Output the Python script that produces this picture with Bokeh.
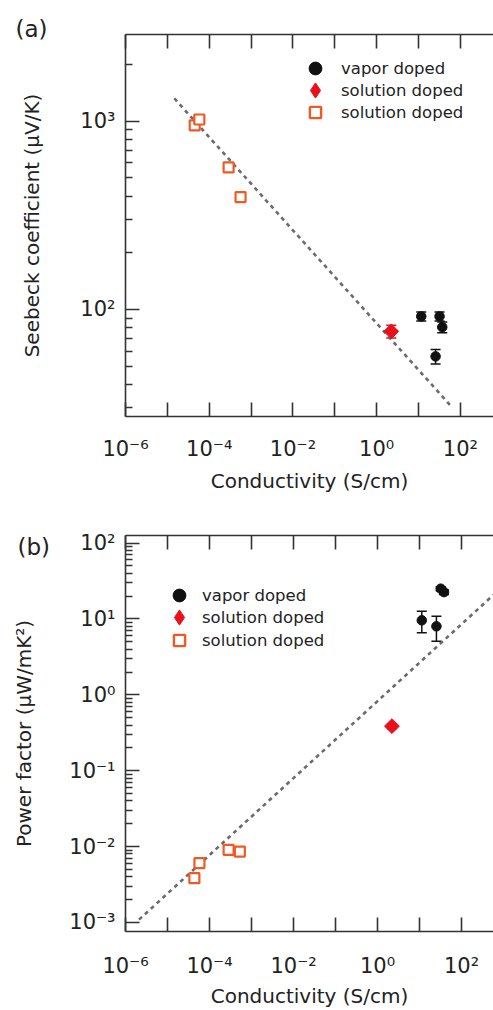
import math
from bokeh.plotting import figure
from bokeh.models import (ColumnDataSource, Whisker, TeeHead, FixedTicker, CustomJSTickFormatter,
                          LogAxis, Label, Legend, LegendItem, Range1d)
from bokeh.layouts import column
from bokeh.embed import file_html
from bokeh.resources import INLINE

# ---------------- data: panel (a) Seebeck coefficient ----------------
vapor_sigma_a = [11.6, 31.7, 36.8, 25.5]
vapor_seebeck = [91.8, 91.8, 80.5, 56.3]
vapor_seebeck_err = [5.0, 5.0, 5.3, 5.0]
soln_sigma_a = [2.23]
soln_seebeck = [76.5]
soln_seebeck_err = [6.0]
film_sigma_a = [4.5e-5, 5.8e-5, 2.9e-4, 5.6e-4]
film_seebeck = [950, 1020, 568, 395]
fit_sigma_a = [1.47e-5, 62.7]
fit_seebeck = [1320, 30.3]

# ---------------- data: panel (b) power factor ----------------
vapor_sigma_b = [11.3, 25.2, 31.8, 38.2]
vapor_pf = [9.6, 8.0, 25.1, 22.6]
vapor_pf_err = [3.0, 2.9, 1.5, 1.5]
soln_sigma_b = [2.2]
soln_pf = [0.387]
soln_pf_err = [0.03]
film_sigma_b = [4.36e-5, 5.75e-5, 2.85e-4, 5.27e-4]
film_pf = [3.84e-3, 6.05e-3, 9.06e-3, 8.6e-3]
fit_sigma_b = [2.1e-6, 571]
fit_pf = [1.09e-3, 20.7]

# ---------------- ticks ----------------
x_ticks = [1e-6, 1e-5, 1e-4, 1e-3, 1e-2, 1e-1, 1e0, 1e1, 1e2]
x_tick_labels = ["10⁻⁶", "", "10⁻⁴", "", "10⁻²", "", "10⁰", "", "10²"]
ya_ticks = [1e2, 1e3]
ya_tick_labels = ["10²", "10³"]
ya_minor = [30, 40, 50, 60, 70, 80, 90, 200, 300, 400, 500, 600, 700, 800, 900, 2000, 3000]
yb_ticks = [1e-3, 1e-2, 1e-1, 1e0, 1e1, 1e2]
yb_tick_labels = ["10⁻³", "10⁻²", "10⁻¹", "10⁰", "10¹", "10²"]
yb_minor = [m * d for d in [1e-3, 1e-2, 1e-1, 1e0, 1e1] for m in range(2, 10)]

legend_labels = ["vapor doped", "solution doped", "solution doped"]

FONT = "DejaVu Sans"
TXT = "#222222"
SQ = "#ef5a24"
RED = "#e8111b"
DOT = "#111111"
NAN = float("nan")

# legend key box sizes (circle, diamond, square) -> key glyph sizes
KEY_BOX = [32, 38, 28]

LABEL_JS = """
for (let i = 0; i < tks.length; i++) {
  if (Math.abs(Math.log10(tick) - Math.log10(tks[i])) < 1e-6) { return labs[i]; }
}
return "";
"""


def fmt(tks, labs):
    return CustomJSTickFormatter(args=dict(tks=tks, labs=labs), code=LABEL_JS)


def style_axis(ax, minor=True):
    ax.axis_line_color = "#333333"
    ax.axis_line_width = 1.6
    ax.major_tick_line_color = "#333333"
    ax.major_tick_line_width = 1.6
    ax.minor_tick_line_color = "#333333"
    ax.minor_tick_line_width = 1.3
    ax.major_tick_in = 14
    ax.major_tick_out = 0
    ax.minor_tick_in = 7 if minor else 0
    ax.minor_tick_out = 0
    ax.major_label_text_font = FONT
    ax.major_label_text_font_size = "21px"
    ax.major_label_text_color = TXT
    ax.axis_label_text_font = FONT
    ax.axis_label_text_font_size = "20px"
    ax.axis_label_text_font_style = "normal"
    ax.axis_label_text_color = TXT


def make_panel(width, height, bl, bt, bb, y_start, y_end, x_end,
               y_ticks, y_labels, y_minor, y_title, y_title_standoff, x_lab_standoff, x_title_standoff,
               vs, vy, ve, ss, sy, se, fs, fy, lx, ly,
               key_cx, key_rows, text_x, tag, tag_xy):
    p = figure(width=width, height=height, x_axis_type="log", y_axis_type="log",
               x_range=Range1d(1e-6, x_end), y_range=Range1d(y_start, y_end),
               output_backend="svg", toolbar_location=None,
               min_border_left=bl, min_border_right=0, min_border_top=bt, min_border_bottom=bb)
    p.outline_line_color = None
    p.grid.visible = False
    p.background_fill_color = "white"

    xa = p.xaxis[0]
    xa.ticker = FixedTicker(ticks=x_ticks, minor_ticks=[])
    xa.formatter = fmt(x_ticks, x_tick_labels)
    xa.axis_label = "Conductivity (S/cm)"
    style_axis(xa, minor=False)
    xa.major_label_standoff = x_lab_standoff
    xa.axis_label_standoff = x_title_standoff

    ya = p.yaxis[0]
    ya.ticker = FixedTicker(ticks=y_ticks, minor_ticks=y_minor)
    ya.formatter = fmt(y_ticks, y_labels)
    ya.axis_label = y_title
    style_axis(ya)
    ya.major_label_standoff = 10
    ya.axis_label_standoff = y_title_standoff

    top = LogAxis(ticker=FixedTicker(ticks=x_ticks, minor_ticks=[]),
                  formatter=fmt(x_ticks, [""] * len(x_ticks)))
    style_axis(top, minor=False)
    top.major_label_text_font_size = "0px"
    top.major_label_standoff = 0
    p.add_layout(top, "above")

    # fit line
    p.line(lx, ly, line_color="#6b6b6b", line_width=2.6, line_dash="4 4")

    # error bars
    vsrc = ColumnDataSource(dict(x=vs, lower=[a - b for a, b in zip(vy, ve)],
                                 upper=[a + b for a, b in zip(vy, ve)]))
    p.add_layout(Whisker(source=vsrc, base="x", lower="lower", upper="upper",
                         line_color=DOT, line_width=1.5,
                         upper_head=TeeHead(size=10, line_color=DOT, line_width=1.5),
                         lower_head=TeeHead(size=10, line_color=DOT, line_width=1.5)))
    ssrc = ColumnDataSource(dict(x=ss, lower=[a - b for a, b in zip(sy, se)],
                                 upper=[a + b for a, b in zip(sy, se)]))
    p.add_layout(Whisker(source=ssrc, base="x", lower="lower", upper="upper",
                         line_color=RED, line_width=1.5,
                         upper_head=TeeHead(size=10, line_color=RED, line_width=1.5),
                         lower_head=TeeHead(size=10, line_color=RED, line_width=1.5)))

    p.scatter(vs, vy, marker="circle", size=9.5, fill_color=DOT, line_color=DOT)
    p.scatter(ss, sy, marker="square", angle=math.pi / 4, size=10.5,
              fill_color=RED, line_color=RED)
    p.scatter(fs, fy, marker="square", size=10, fill_color="white", line_color=SQ, line_width=2.2)

    # legend key proxies (one undrawable NaN point each, only used for the key)
    keys = [
        p.scatter([NAN], [NAN], marker="circle", fill_color=DOT, line_color=DOT),
        p.scatter([NAN], [NAN], marker="diamond", fill_color=RED, line_color=RED),
        p.scatter([NAN], [NAN], marker="square", fill_color="white", line_color=SQ, line_width=2.4),
    ]
    fl, fb = bl, height - bb  # frame left / bottom in canvas px
    for lab, rend, box, row_cy in zip(legend_labels, keys, KEY_BOX, key_rows):
        left = key_cx - box / 2
        leg = Legend(items=[LegendItem(label=lab, renderers=[rend], index=0)],
                     location=(left - fl, fb - (row_cy + box / 2)))
        leg.border_line_color = None
        leg.background_fill_alpha = 0
        leg.padding = 0
        leg.margin = 0
        leg.spacing = 0
        leg.label_height = 22
        leg.glyph_height = box
        leg.glyph_width = box
        leg.label_standoff = int(round(text_x - (left + box)))
        leg.label_text_font = FONT
        leg.label_text_font_size = "16.5px"
        leg.label_text_color = TXT
        p.add_layout(leg)

    p.add_layout(Label(x=tag_xy[0], y=tag_xy[1], x_units="screen", y_units="screen",
                       text=tag, text_font=FONT, text_font_size="23px", text_color=TXT,
                       text_baseline="middle", text_align="left"), "above")
    return p


# panel (a): canvas starts at page y=0
p1 = make_panel(493, 500, 125, 34, 84, 27.0, 10 ** 3.46, 10 ** 2.79,
                ya_ticks, ya_tick_labels, ya_minor, "Seebeck coefficient (μV/K)", 33, 20, 5,
                vapor_sigma_a, vapor_seebeck, vapor_seebeck_err,
                soln_sigma_a, soln_seebeck, soln_seebeck_err,
                film_sigma_a, film_seebeck, fit_sigma_a, fit_seebeck,
                315, [68, 90, 112], 341, "(a)", (-110, 6))
# panel (b): canvas starts at page y=500
p2 = make_panel(493, 510, 123, 35, 78, 7.6e-4, 126, 10 ** 2.76,
                yb_ticks, yb_tick_labels, yb_minor, "Power factor (μW/mK²)", 30, 22, 3,
                vapor_sigma_b, vapor_pf, vapor_pf_err,
                soln_sigma_b, soln_pf, soln_pf_err,
                film_sigma_b, film_pf, fit_sigma_b, fit_pf,
                177, [96, 118, 141], 200, "(b)", (-108, -11))

layout = column(p1, p2, spacing=0)
open("out.html", "w").write(file_html(layout, INLINE))
